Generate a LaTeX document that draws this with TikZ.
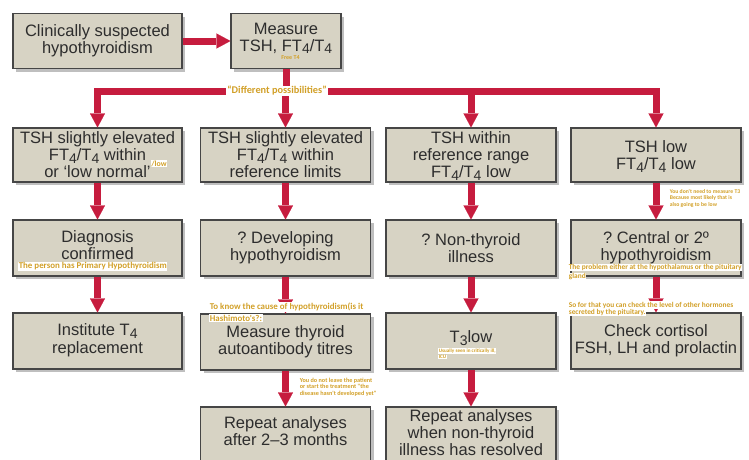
\documentclass[tikz,border=0pt]{standalone}
\usepackage{fontspec}
\setmainfont{Liberation Sans}
\newfontfamily\annfont{Carlito}
\usetikzlibrary{arrows.meta,shadows}
\definecolor{boxfill}{RGB}{215,211,196}
\definecolor{boxline}{RGB}{70,70,70}
\definecolor{txt}{RGB}{45,45,45}
\definecolor{arrred}{RGB}{198,28,62}
\definecolor{gold}{RGB}{210,160,40}
\newcommand{\lowsub}[1]{\raisebox{-0.3ex}[\height][0pt]{\fontsize{14}{14}\selectfont #1}}
\newcommand{\annsz}[2]{\annfont\bfseries\fontsize{#1}{#2}\selectfont}
\frenchspacing
\begin{document}
\begin{tikzpicture}[x=1pt,y=-1pt,
  box/.style={draw=boxline, line width=1.1pt, fill=boxfill, text=txt, align=center,
    minimum height=56pt, inner sep=0pt, font=\fontsize{16.5}{17}\selectfont\frenchspacing,
    drop shadow={shadow xshift=3pt, shadow yshift=-3pt, fill=black!50}},
  boxtext/.style={text=txt, align=center, inner sep=0pt, font=\fontsize{16.5}{17}\selectfont\frenchspacing},
  flow/.style={draw=arrred, line width=7pt, -{Triangle[width=15pt,length=14pt,line width=0.1pt]}},
  busline/.style={draw=arrred, line width=7pt},
  ann/.style={text=gold, inner sep=0.6pt, align=left, anchor=west},
  annbg/.style={ann, fill=white},
]
\useasboundingbox (0,0) rectangle (749,459);
\clip (0,0) rectangle (749,459);

% top row
\node[box, minimum width=169pt, minimum height=55pt] (n1) at (97.5,41) {Clinically suspected\\hypothyroidism};
\node[box, minimum width=110pt, minimum height=55pt] (n2) at (286,41) {};
\node[boxtext] (n2t) at (286,38) {Measure\\TSH, FT\lowsub{4}/T\lowsub{4}};

% row 2
\node[box, minimum width=169pt, minimum height=54pt] (a2) at (97.5,155) {TSH slightly elevated\\FT\lowsub{4}/T\lowsub{4} within\\or ‘low normal’};
\node[box, minimum width=170pt, minimum height=54pt] (b2) at (285.5,155) {TSH slightly elevated\\FT\lowsub{4}/T\lowsub{4} within\\reference limits};
\node[box, minimum width=170pt, minimum height=54pt] (c2) at (471,155) {TSH within\\reference range\\FT\lowsub{4}/T\lowsub{4} low};
\node[box, minimum width=170pt, minimum height=54pt] (d2) at (656,155) {TSH low\\FT\lowsub{4}/T\lowsub{4} low};

% row 3
\node[box, minimum width=169pt] (a3) at (97.5,248) {};
\node[boxtext] (a3t) at (97.5,245) {Diagnosis\\confirmed};
\node[box, minimum width=170pt] (b3) at (285.5,248) {? Developing\\hypothyroidism};
\node[box, minimum width=170pt] (c3) at (471,248) {? Non-thyroid\\illness};
\node[box, minimum width=170pt] (d3) at (656,248) {? Central or 2º\\hypothyroidism};

% row 4
\node[box, minimum width=169pt] (a4) at (97.5,341) {};
\node[boxtext] (a4t) at (97.5,340) {Institute T\lowsub{4}\\[0.5pt]replacement};
\node[box, minimum width=170pt] (b4) at (285.5,342) {Measure thyroid\\autoantibody titres};
\node[box, minimum width=170pt] (c4) at (471,341) {};
\node[boxtext] (c4t) at (471,337) {T\lowsub{3}low};
\node[box, minimum width=170pt] (d4) at (656,341) {Check cortisol\\FSH, LH and prolactin};

% row 5
\node[box, minimum width=170pt, minimum height=58pt] (b5) at (285.5,436) {};
\node[boxtext] (b5t) at (285.5,431.5) {Repeat analyses\\after 2–3 months};
\node[box, minimum width=170pt, minimum height=58pt] (c5) at (471,436) {};
\node[boxtext] (c5t) at (471,433) {Repeat analyses\\when non-thyroid\\illness has resolved};

% connectors
\draw[flow] (n1.east |- 0,41) -- (n2.west |- 0,41);
\coordinate (busL) at (94,91);
\coordinate (busR) at (659.5,91);
\draw[busline] (busL) -- (busR);
\draw[busline] (n2.south) -- (n2.south |- busL);
\foreach \n in {a2,b2,c2,d2} {\draw[flow] (\n.north |- busL) -- (\n.north);}
\draw[flow] (a2.south) -- (a3.north);
\draw[flow] (b2.south) -- (b3.north);
\draw[flow] (c2.south) -- (c3.north);
\draw[flow] (d2.south) -- (d3.north);
\draw[flow] (a3.south) -- (a4.north);
\draw[flow] (b3.south) -- (b4.north);
\draw[flow] (c3.south) -- (c4.north);
\draw[flow] (d3.south) -- (d4.north);
\draw[flow] (b4.south) -- (b5.north);
\draw[flow] (c4.south) -- (c5.north);

% annotations
\node[ann, anchor=center, font=\annsz{6}{7}] (t0) at (290.5,58) {Free T4};
\node[annbg, anchor=center, font=\annsz{10.3}{11}, inner xsep=1.5pt] (t1) at (277,91) {“Different possibilities”};
\node[annbg, font=\annsz{7.8}{8.5}] (t2) at (150.5,163.5) {/low};
\node[annbg, font=\annsz{8.9}{9.5}] (t3) at (18,266.5) {The person has Primary Hypothyroidism};
\node[annbg, font=\annsz{8.9}{10}] (t4) at (209,307) {To know the cause of hypothyroidism(is it};
\node[annbg, font=\annsz{8.9}{10}] (t5) at (209,318) {Hashimoto's?:};
\node[ann, font=\annsz{6.2}{6.5}] (t6) at (299,387) {You do not leave the patient\\or start the treatment "the\\disease hasn't developed yet"};
\node[annbg, font=\annsz{5.1}{5.5}] (t7) at (438,351) {Usually seen in critically ill,};
\node[annbg, font=\annsz{5.1}{5.5}] (t8) at (438,357) {ICU};
\node[ann, font=\annsz{5.7}{6.5}] (t9) at (669,198) {You don't need to measure T3\\Because most likely that is\\also going to be low};
\node[annbg, font=\annsz{7.4}{8.5}] (t10) at (568,267.5) {The problem either at the hypothalamus or the pituitary};
\node[annbg, font=\annsz{7.4}{8.5}] (t11) at (568,276.5) {gland};
\node[annbg, font=\annsz{7.4}{8.5}] (t12) at (568,305) {So for that you can check the level of other hormones};
\node[annbg, font=\annsz{7.4}{8.5}] (t13) at (568,312.5) {secreted by the pituitary.};
\end{tikzpicture}
\end{document}
